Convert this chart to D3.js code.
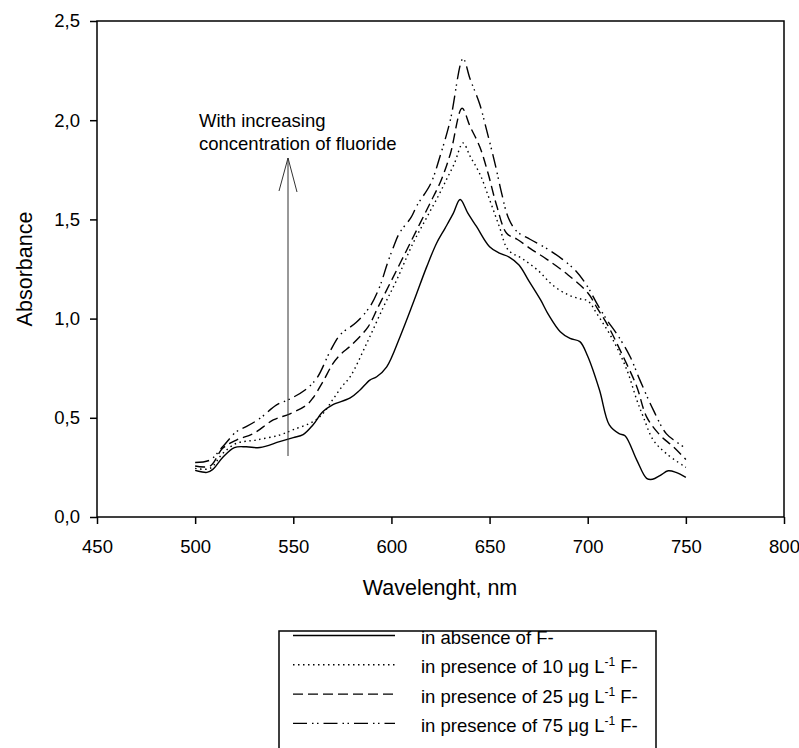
<!DOCTYPE html>
<html>
  <head>
    <script src="https://d3js.org/d3.v7.min.js"></script>
    <style>
      body { margin: 0; background: #fff; }
      svg { display: block; font-family: "Liberation Sans", Arial, sans-serif; }
    </style>
  </head>
  <body>
    <svg width="799" height="748"></svg>
    <script>
      // readings: [wavelength nm, absorbance]
      const absence = [
        [500,0.235],[503,0.228],[506,0.225],[509,0.24],[514,0.30],[520,0.35],[526,0.354],[533,0.35],
        [543,0.38],[550,0.40],[555,0.415],[560,0.464],[565,0.53],[570,0.565],[579,0.60],[584,0.64],
        [589,0.69],[592.5,0.707],[597.6,0.757],[604.4,0.909],[611,1.077],[618,1.262],[623,1.38],
        [627.3,1.455],[631.5,1.53],[635,1.60],[639,1.53],[643.4,1.463],[650,1.362],[655,1.33],
        [660,1.31],[665,1.27],[670,1.19],[676,1.094],[680,1.02],[686,0.934],[691,0.90],[696,0.884],
        [700,0.81],[706,0.64],[711,0.464],[716,0.42],[719,0.41],[725,0.287],[730,0.195],[733,0.19],
        [737,0.21],[741,0.233],[745,0.225],[750,0.2]
      ];
      const f10 = [
        [500,0.245],[507.6,0.245],[514,0.32],[521,0.371],[531,0.388],[543,0.413],[550,0.44],[560,0.48],
        [565,0.52],[570,0.59],[575,0.66],[579,0.707],[587.4,0.875],[596,1.06],[602.7,1.195],[611,1.38],
        [618,1.51],[624,1.62],[628,1.70],[632,1.78],[636.5,1.885],[640,1.82],[645,1.73],[650,1.60],
        [655,1.463],[659.5,1.346],[667,1.30],[675,1.24],[682,1.17],[690,1.12],[696,1.10],[700,1.09],
        [704.5,1.027],[713,0.89],[720,0.74],[725,0.59],[728.3,0.505],[733.4,0.388],[740,0.32],[750,0.25]
      ];
      const f25 = [
        [500,0.257],[507.6,0.257],[514,0.346],[521,0.388],[529.6,0.42],[539.8,0.489],[548.3,0.52],
        [556.8,0.565],[560,0.60],[565,0.68],[570,0.77],[573.8,0.817],[579.7,0.867],[588.2,0.96],
        [593.3,1.06],[599.3,1.178],[606,1.31],[612.9,1.447],[619.6,1.58],[625,1.69],[630,1.83],
        [636,2.06],[640,1.97],[645,1.866],[649.3,1.73],[653.6,1.57],[658.7,1.43],[664,1.40],
        [670.6,1.354],[679,1.30],[690,1.22],[700,1.13],[705,1.05],[710,0.97],[718,0.81],[725,0.657],
        [730,0.505],[736.8,0.413],[743.6,0.354],[750,0.29]
      ];
      const f75 = [
        [500,0.275],[507.6,0.287],[514,0.354],[521,0.43],[526,0.455],[533,0.497],[541.5,0.565],
        [548.3,0.595],[556,0.64],[562,0.70],[569,0.84],[574,0.92],[582,0.98],[589,1.06],[594,1.16],
        [598,1.28],[601,1.36],[604,1.43],[610,1.51],[613,1.57],[620,1.68],[624.7,1.816],[630,2.0],
        [636.5,2.31],[640,2.21],[645,2.08],[648.5,1.95],[652.8,1.78],[656.2,1.63],[659.5,1.51],
        [663.8,1.44],[670.6,1.40],[679,1.354],[687,1.30],[694,1.24],[700,1.16],[705,1.07],[710,0.99],
        [715,0.92],[721.5,0.81],[726.6,0.69],[733.4,0.54],[740,0.42],[745,0.38],[750,0.346]
      ];

      const series = [absence, f10, f25, f75];
      const dashes = [null, "1.5,3.5", "10,5", "14,5,1.5,3.5,1.5,5"];
      const legendLabels = [
        ["in absence of F-"],
        ["in presence of 10 \u03bcg L", "-1", " F-"],
        ["in presence of 25 \u03bcg L", "-1", " F-"],
        ["in presence of 75 \u03bcg L", "-1", " F-"]
      ];
      const xTicks = [450, 500, 550, 600, 650, 700, 750, 800];
      const yTicks = [0, 0.5, 1.0, 1.5, 2.0, 2.5];

      const svg = d3.select("svg");
      const x = d3.scaleLinear().domain([450, 800]).range([97, 784]);
      const y = d3.scaleLinear().domain([0, 2.5]).range([517, 21]);
      const fs = 18.5;

      const line = d3.line()
        .x(d => x(d[0]))
        .y(d => y(d[1]))
        .curve(d3.curveCatmullRom.alpha(0.5));

      svg.selectAll("path.curve")
        .data(series)
        .enter().append("path")
        .attr("class", "curve")
        .attr("d", line)
        .attr("fill", "none")
        .attr("stroke", "#000")
        .attr("stroke-width", 1.4)
        .attr("stroke-dasharray", (d, i) => dashes[i]);

      // axes
      const xAxis = svg.append("g")
        .attr("transform", "translate(0,517)")
        .call(d3.axisBottom(x).tickValues(xTicks).tickSize(7).tickPadding(16).tickFormat(d3.format("d")));
      const yAxis = svg.append("g")
        .attr("transform", "translate(97,0)")
        .call(d3.axisLeft(y).tickValues(yTicks).tickSize(7).tickPadding(10)
          .tickFormat(d => d.toFixed(1).replace(".", ",")));
      [xAxis, yAxis].forEach(g => {
        g.select(".domain").remove();
        g.selectAll("line").attr("stroke", "#000").attr("stroke-width", 1.5);
        g.selectAll("text").attr("fill", "#000").style("font-size", fs + "px")
          .style("font-family", "'Liberation Sans', Arial, sans-serif");
      });

      svg.append("rect")
        .attr("x", 97).attr("y", 21)
        .attr("width", 784 - 97).attr("height", 517 - 21)
        .attr("fill", "none").attr("stroke", "#000").attr("stroke-width", 1.5);

      svg.append("text")
        .attr("x", 440).attr("y", 595)
        .attr("text-anchor", "middle")
        .style("font-size", "21.5px")
        .text("Wavelenght, nm");

      svg.append("text")
        .attr("transform", "translate(32,269) rotate(-90)")
        .attr("text-anchor", "middle")
        .style("font-size", "21.5px")
        .text("Absorbance");

      // annotation arrow
      svg.append("line")
        .attr("x1", 288).attr("x2", 288).attr("y1", 456).attr("y2", 158)
        .attr("stroke", "#333").attr("stroke-width", 1);
      svg.append("path")
        .attr("d", "M279,191L288,158L297,192")
        .attr("fill", "none").attr("stroke", "#333").attr("stroke-width", 1);
      svg.append("text").attr("x", 199).attr("y", 127).style("font-size", fs + "px").text("With increasing");
      svg.append("text").attr("x", 199).attr("y", 150).style("font-size", fs + "px").text("concentration of fluoride");

      // legend
      svg.append("rect")
        .attr("x", 279).attr("y", 631).attr("width", 656 - 279).attr("height", 130)
        .attr("fill", "none").attr("stroke", "#000").attr("stroke-width", 1.5);
      const rows = svg.selectAll("g.leg")
        .data(legendLabels)
        .enter().append("g")
        .attr("class", "leg")
        .attr("transform", (d, i) => `translate(0,${644 + i * 29.3})`);
      rows.append("line")
        .attr("x1", 293).attr("x2", 395).attr("y1", -8.5).attr("y2", -8.5)
        .attr("stroke", "#000").attr("stroke-width", 1.4)
        .attr("stroke-dasharray", (d, i) => dashes[i]);
      const t = rows.append("text").attr("x", 421).attr("y", 0).style("font-size", fs + "px");
      t.append("tspan").text(d => d[0]);
      t.filter(d => d.length > 1).append("tspan")
        .attr("dy", -7).style("font-size", "12px").text(d => d[1]);
      t.filter(d => d.length > 1).append("tspan")
        .attr("dy", 7).text(d => d[2]);
    </script>
  </body>
</html>
